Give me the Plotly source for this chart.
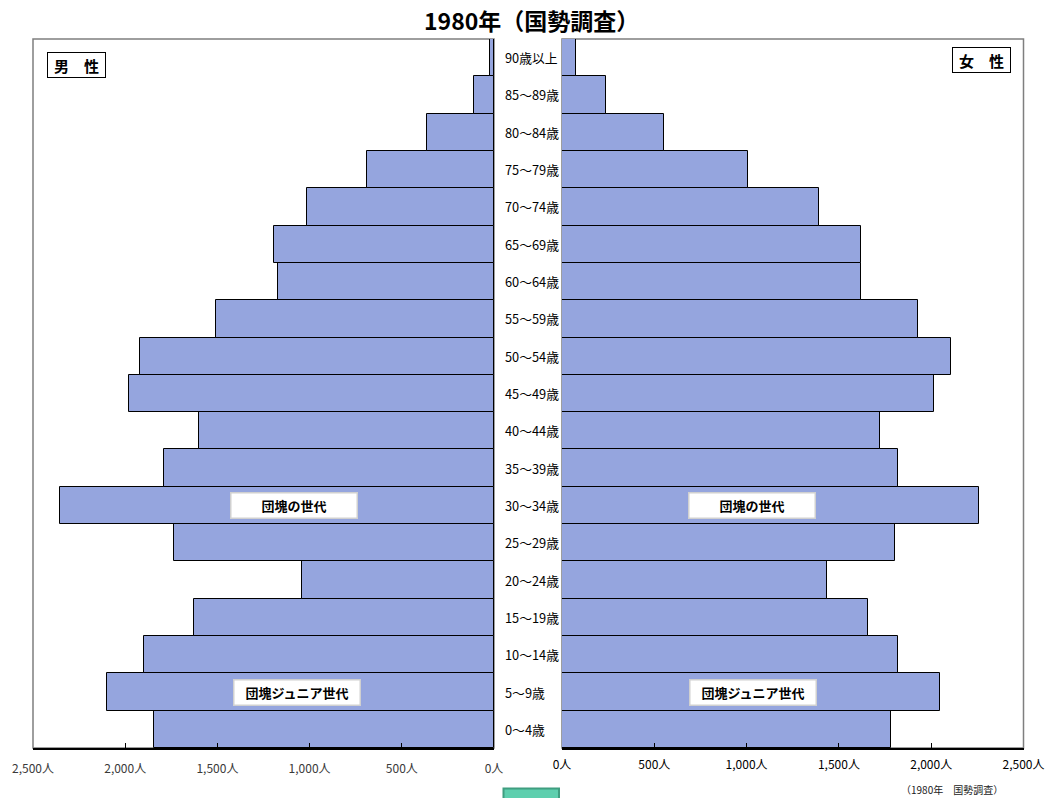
import plotly.graph_objects as go

W, H = 1053, 798

ages = ["0～4歳", "5～9歳", "10～14歳", "15～19歳", "20～24歳", "25～29歳", "30～34歳",
        "35～39歳", "40～44歳", "45～49歳", "50～54歳", "55～59歳", "60～64歳", "65～69歳",
        "70～74歳", "75～79歳", "80～84歳", "85～89歳", "90歳以上"]
male = [1843, 2099, 1897, 1626, 1042, 1738, 2356, 1792, 1600, 1978, 1922, 1505,
        1169, 1194, 1015, 687, 365, 106, 22]
female = [1784, 2046, 1818, 1658, 1433, 1804, 2258, 1818, 1723, 2014, 2106, 1931,
          1618, 1618, 1392, 1010, 553, 238, 76]
tick_vals = [0, 500, 1000, 1500, 2000, 2500]
tick_text = ["0人", "500人", "1,000人", "1,500人", "2,000人", "2,500人"]

FONT = "Noto Sans CJK JP"
BAR = "#95A5DE"

def px(x):
    return x / W

def py(y):
    return 1 - y / H

fig = go.Figure()
fig.add_trace(go.Bar(y=ages, x=male, orientation="h", xaxis="x", yaxis="y",
                     marker=dict(color=BAR, line=dict(color="black", width=1)),
                     showlegend=False, hoverinfo="skip"))
fig.add_trace(go.Bar(y=ages, x=female, orientation="h", xaxis="x2", yaxis="y",
                     marker=dict(color=BAR, line=dict(color="black", width=1)),
                     showlegend=False, hoverinfo="skip"))

ydom = [py(748), py(39)]

annotations = []
# category labels
for a in ages:
    annotations.append(dict(x=px(503), y=a, xref="paper", yref="y", text=a,
                            showarrow=False, xanchor="left", yanchor="middle",
                            font=dict(family=FONT, size=12.8, color="black")))

def boxlabel(xc, cat, text):
    return dict(x=px(xc), y=cat, xref="paper", yref="y", text="<b>%s</b>" % text,
                showarrow=False, xanchor="center", yanchor="middle",
                width=123, height=22, borderpad=1, bgcolor="white",
                bordercolor="#D0D0D0", borderwidth=1.5,
                font=dict(family=FONT, size=13, color="black"))

annotations += [
    boxlabel(293.5, "30～34歳", "団塊の世代"),
    boxlabel(297, "5～9歳", "団塊ジュニア世代"),
    boxlabel(752, "30～34歳", "団塊の世代"),
    boxlabel(753, "5～9歳", "団塊ジュニア世代"),
    dict(x=px(76.3), y=py(65.5), xref="paper", yref="paper", text="<b>男　性</b>",
         showarrow=False, xanchor="center", yanchor="middle", width=55, height=22,
         borderpad=1, bgcolor="white", bordercolor="black", borderwidth=1,
         font=dict(family=FONT, size=15, color="black")),
    dict(x=px(981), y=py(60.5), xref="paper", yref="paper", text="<b>女　性</b>",
         showarrow=False, xanchor="center", yanchor="middle", width=55, height=22,
         borderpad=1, bgcolor="white", bordercolor="black", borderwidth=1,
         font=dict(family=FONT, size=15, color="black")),
    dict(x=px(531), y=py(20), xref="paper", yref="paper", text="<b>1980年（国勢調査）</b>",
         showarrow=False, xanchor="center", yanchor="middle",
         font=dict(family=FONT, size=23, color="black")),
    dict(x=px(952), y=py(789), xref="paper", yref="paper", text="（1980年　国勢調査）",
         showarrow=False, xanchor="center", yanchor="middle",
         font=dict(family=FONT, size=10, color="#222222")),
]

shapes = [
    dict(type="rect", xref="x domain", yref="y domain", x0=0, x1=1, y0=0, y1=1,
         line=dict(color="#7F7F7F", width=1.5), layer="below"),
    dict(type="rect", xref="x2 domain", yref="y domain", x0=0, x1=1, y0=0, y1=1,
         line=dict(color="#7F7F7F", width=1.5), layer="below"),
    dict(type="rect", xref="paper", yref="paper", x0=px(503.5), x1=px(559),
         y0=py(788.5), y1=py(800), fillcolor="#5ECFAE",
         line=dict(color="#3F9E80", width=2)),
]

fig.update_layout(
    width=W, height=H,
    margin=dict(l=0, r=0, t=0, b=0, autoexpand=False),
    paper_bgcolor="white", plot_bgcolor="white",
    bargap=0,
    font=dict(family=FONT),
    xaxis=dict(domain=[px(33), px(494)], range=[2500, 0], anchor="y",
               tickvals=tick_vals, ticktext=tick_text, ticks="inside", ticklen=5,
               tickcolor="black", showline=True, linecolor="black", linewidth=2,
               showgrid=False, zeroline=False, ticklabelstandoff=9, automargin=False,
               tickfont=dict(family=FONT, size=12, color="#3A3A3A")),
    xaxis2=dict(domain=[px(562), px(1023.5)], range=[0, 2500], anchor="y",
                tickvals=tick_vals, ticktext=tick_text, ticks="inside", ticklen=5,
                tickcolor="black", showline=True, linecolor="black", linewidth=1.5,
                showgrid=False, zeroline=False, ticklabelstandoff=5, automargin=False,
                tickfont=dict(family=FONT, size=12, color="black")),
    yaxis=dict(domain=ydom, type="category", categoryorder="array", categoryarray=ages,
               range=[-0.5, 18.5], showticklabels=False, showgrid=False,
               zeroline=False, showline=False, ticks="", automargin=False),
    annotations=annotations,
    shapes=shapes,
)

fig.write_html("out.html")
